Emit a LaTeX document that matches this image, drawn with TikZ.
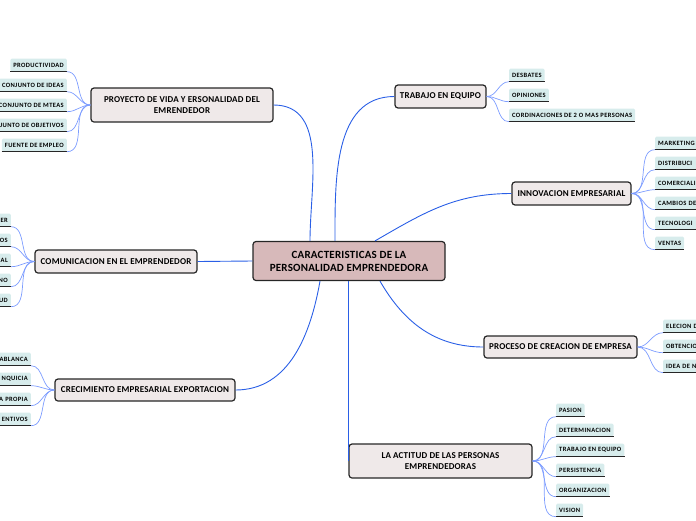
\documentclass[tikz,border=0pt]{standalone}
\usepackage{fontspec}
\setmainfont{Carlito}
\newfontfamily\leaffont[LetterSpace=6]{Carlito}
\newfontfamily\topicfont[LetterSpace=2]{Carlito}
\usetikzlibrary{positioning}
\definecolor{rootfill}{HTML}{D7B9BA}
\definecolor{topicfill}{HTML}{EFE9E9}
\definecolor{leaffill}{HTML}{D7ECEC}
\definecolor{mainblue}{HTML}{2A5FE6}
\definecolor{leafblue}{HTML}{7C9CFF}

\begin{document}
\begin{tikzpicture}[x=1pt, y=-1pt,
        root/.style={draw=black!85, fill=rootfill, rounded corners=3pt, line width=1.2pt,
            align=center, font=\topicfont\bfseries\fontsize{11}{13}\selectfont, minimum width=192pt, minimum height=39pt},
        topic/.style={draw=black!85, fill=topicfill, rounded corners=3pt, line width=1.2pt,
            align=center, font=\topicfont\bfseries\fontsize{9}{11}\selectfont, inner sep=1pt},
        leaf/.style={fill=leaffill, rounded corners=1.5pt, inner xsep=3pt, inner ysep=0pt,
            minimum height=13pt, font=\leaffont\bfseries\fontsize{6.5}{7}\selectfont,
            append after command={(\tikzlastnode.south west) edge[draw=black!85, line width=1pt] (\tikzlastnode.south east)}},
        lclip/.style={leaf, text width=#1, align=right},
        rclip/.style={leaf, text width=#1, align=left},
        ln/.style={draw=mainblue, line width=0.9pt},
        lf/.style={draw=leafblue, line width=0.7pt}
    ]
    \useasboundingbox (0,0) rectangle (696,520);
    \clip (0,0) rectangle (696,520);

    % centre and topics
    \node (root) [root] at (349,261) {CARACTERISTICAS DE LA\\PERSONALIDAD EMPRENDEDORA};
    \node (proy) [topic, minimum width=182pt, minimum height=34pt] at (182,105) {PROYECTO DE VIDA Y ERSONALIDAD DEL\\EMRENDEDOR};
    \node (trab) [topic, minimum width=91pt, minimum height=23pt] at (440.5,96.5) {TRABAJO EN EQUIPO};
    \node (inno) [topic, minimum width=119pt, minimum height=23pt] at (571.5,193.5) {INNOVACION EMPRESARIAL};
    \node (comu) [topic, minimum width=162pt, minimum height=23pt] at (116,261.5) {COMUNICACION EN EL EMPRENDEDOR};
    \node (proc) [topic, minimum width=153pt, minimum height=22pt] at (560.5,347) {PROCESO DE CREACION DE EMPRESA};
    \node (crec) [topic, minimum width=180pt, minimum height=22pt] at (145,390) {CRECIMIENTO EMPRESARIAL EXPORTACION};
    \node (acti) [topic, minimum width=183pt, minimum height=34pt] at (440.5,461) {LA ACTITUD DE LAS PERSONAS\\EMPRENDEDORAS};

    % main branches
    \draw[ln] ([xshift=-39pt]root.north) to[out=90, in=0] (proy.east);
    \draw[ln] ([xshift=-14pt]root.north) to[out=90, in=180] (trab.west);
    \draw[ln] ([xshift=26pt]root.north) to[out=30, in=180] (inno.west);
    \draw[ln] (root.west) -- (comu.east);
    \draw[ln] ([xshift=31pt]root.south) to[out=-60, in=180] (proc.west);
    \draw[ln] ([xshift=-29pt]root.south) to[out=-100, in=0] (crec.east);
    \draw[ln] ([xshift=-1pt]root.south) -- ([xshift=-1pt]root.south |- acti.west);

    % proyecto
    \node (p1) [leaf, anchor=east] at (67,65) {PRODUCTIVIDAD};
    \node (p2) [leaf, anchor=east] at (67,85) {CONJUNTO DE IDEAS};
    \node (p3) [leaf, anchor=east] at (67,105) {CONJUNTO DE MTEAS};
    \node (p4) [leaf, anchor=east] at (67,125) {CONJUNTO DE OBJETIVOS};
    \node (p5) [leaf, anchor=east] at (67,145) {FUENTE DE EMPLEO};
    \foreach \n in {p1,p2,p3,p4,p5}
        \draw[lf] (proy.west) to[out=180, in=0] (\n.south east);

    % trabajo en equipo
    \node (t1) [leaf, anchor=west] at (509,75) {DESBATES};
    \node (t2) [leaf, anchor=west] at (509,95) {OPINIONES};
    \node (t3) [leaf, anchor=west] at (509,115) {CORDINACIONES DE 2 O MAS PERSONAS};
    \foreach \n in {t1,t2,t3}
        \draw[lf] (trab.east) to[out=0, in=180] (\n.south west);

    % innovacion
    \node (i1) [leaf, anchor=west] at (655,143) {MARKETING};
    \node (i2) [rclip=60pt, anchor=west] at (655,163) {DISTRIBUCI};
    \node (i3) [rclip=60pt, anchor=west] at (655,183) {COMERCIALI};
    \node (i4) [rclip=60pt, anchor=west] at (655,203) {CAMBIOS DE};
    \node (i5) [rclip=60pt, anchor=west] at (655,223) {TECNOLOGI};
    \node (i6) [leaf, anchor=west] at (655,243) {VENTAS};
    \foreach \n in {i1,i2,i3,i4,i5,i6}
        \draw[lf] (inno.east) to[out=0, in=180] (\n.south west);

    % comunicacion
    \node (c1) [lclip=40pt, anchor=east] at (11,220) {ER};
    \node (c2) [lclip=40pt, anchor=east] at (11,240) {OS};
    \node (c3) [lclip=40pt, anchor=east] at (11,260) {AL};
    \node (c4) [lclip=40pt, anchor=east] at (11,280) {NO};
    \node (c5) [lclip=40pt, anchor=east] at (11,300) {UD};
    \foreach \n in {c1,c2,c3,c4,c5}
        \draw[lf] (comu.west) to[out=180, in=0] (\n.south east);

    % proceso
    \node (r1) [rclip=50pt, anchor=west] at (663,326) {ELECION D};
    \node (r2) [rclip=50pt, anchor=west] at (663,346) {OBTENCIO};
    \node (r3) [rclip=50pt, anchor=west] at (663,366) {IDEA DE N};
    \foreach \n in {r1,r2,r3}
        \draw[lf] (proc.east) to[out=0, in=180] (\n.south west);

    % crecimiento
    \node (g1) [lclip=50pt, anchor=east] at (31,359) {ABLANCA};
    \node (g2) [lclip=50pt, anchor=east] at (31,379) {NQUICIA};
    \node (g3) [lclip=50pt, anchor=east] at (31,399) {A PROPIA};
    \node (g4) [lclip=50pt, anchor=east] at (31,419) {ENTIVOS};
    \foreach \n in {g1,g2,g3,g4}
        \draw[lf] (crec.west) to[out=180, in=0] (\n.south east);

    % actitud
    \node (a1) [leaf, anchor=west] at (556,410) {PASION};
    \node (a2) [leaf, anchor=west] at (556,430) {DETERMINACION};
    \node (a3) [leaf, anchor=west] at (556,450) {TRABAJO EN EQUIPO};
    \node (a4) [leaf, anchor=west] at (556,470) {PERSISTENCIA};
    \node (a5) [leaf, anchor=west] at (556,490) {ORGANIZACION};
    \node (a6) [leaf, anchor=west] at (556,510) {VISION};
    \foreach \n in {a1,a2,a3,a4,a5,a6}
        \draw[lf] (acti.east) to[out=0, in=180] (\n.south west);
\end{tikzpicture}
\end{document}
